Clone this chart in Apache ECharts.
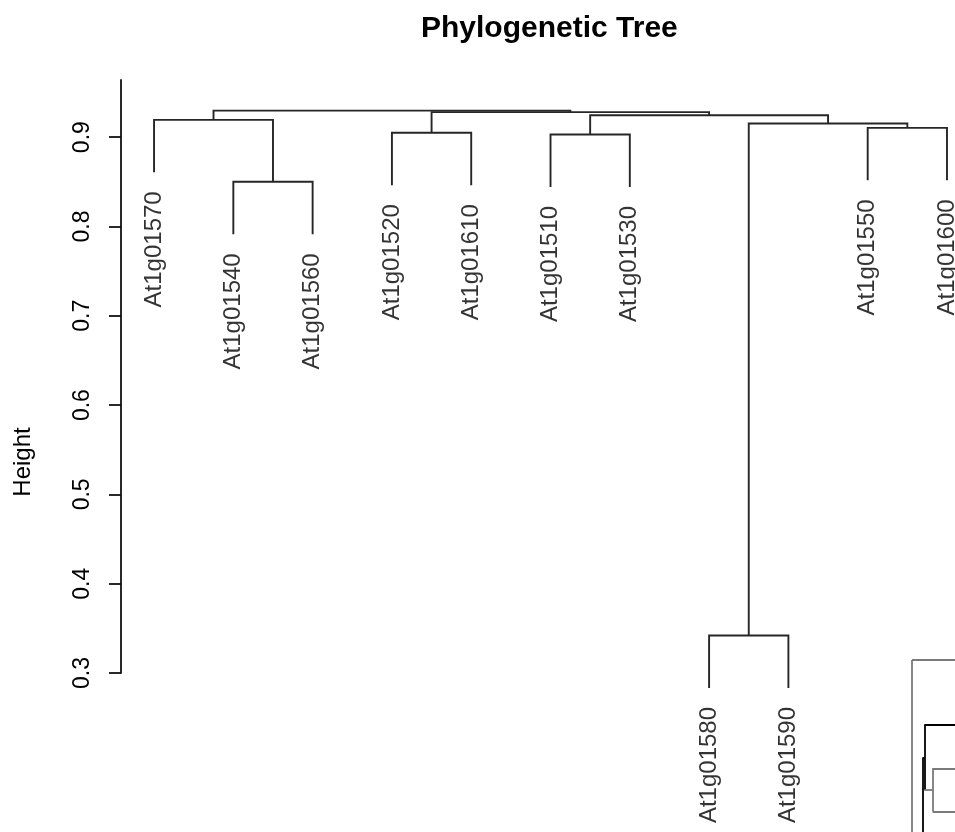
<!DOCTYPE html>
<html><head><meta charset="utf-8">
<script src="https://cdn.jsdelivr.net/npm/echarts@6/dist/echarts.min.js"></script>
<style>html,body{margin:0;padding:0;background:#fff}#c{width:955px;height:832px}</style>
</head><body><div id="c"></div>
<script>
// ---- data: main dendrogram (leaf order as drawn) ----
const leafLabels = ["At1g01570","At1g01540","At1g01560","At1g01520","At1g01610","At1g01510","At1g01530","At1g01580","At1g01590","At1g01550","At1g01600"];
// merge steps (numbers refer to earlier merge steps, 1-based)
const mergeLeft   = ["At1g01580","At1g01540","At1g01510","At1g01520","At1g01550", 1, "At1g01570", 3, 4, 7];
const mergeRight  = ["At1g01590","At1g01560","At1g01530","At1g01610","At1g01600", 5, 2, 6, 8, 9];
const mergeHeight = [0.342, 0.850, 0.903, 0.905, 0.9104, 0.9153, 0.9194, 0.9246, 0.928, 0.9297];
const hangFraction = 0.1;
const yTicks = [0.3, 0.4, 0.5, 0.6, 0.7, 0.8, 0.9];
const yAxisTop = 0.964;

// ---- data: partial second dendrogram visible at bottom right ----
const insetLeafNames = ["L1", "L2", "L3", "L4", "L5"];
const insetLeafRows  = [0, 1.5, 2.5, 3.5, 6];
const insetLeafHeight = -20;
const insetMergeNames  = ["A", "B", "C", "D"];
const insetMergeLeft   = ["L3", "L2", "B", "L1"];
const insetMergeRight  = ["L4", "A", "L5", "C"];
const insetMergeHeight = [22.3, 30.7, 32.3, 43];

// ---- styles ----
const GRAY = '#7a7a7a', BLACK = '#000000';
const insetNodeColor = {L1: GRAY, L2: BLACK, L3: GRAY, L4: GRAY, L5: BLACK, A: GRAY, B: BLACK, C: BLACK, D: GRAY};
const FONT = 'Liberation Sans, Arial, sans-serif';

// ---- build main tree geometry from data ----
const hang = hangFraction * (Math.max(...mergeHeight) - Math.min(...mergeHeight));
const nodeX = {};
leafLabels.forEach((l, i) => { nodeX[l] = i; });
const treeSegs = [];
const leafPoints = [];
for (let k = 0; k < mergeHeight.length; k++) {
  const h = mergeHeight[k];
  const key = c => typeof c === 'number' ? 'm' + c : c;
  const yOf = c => typeof c === 'number' ? mergeHeight[c - 1] : h - hang;
  const L = key(mergeLeft[k]), R = key(mergeRight[k]);
  const yl = yOf(mergeLeft[k]), yr = yOf(mergeRight[k]);
  if (typeof mergeLeft[k] !== 'number') leafPoints.push({name: L, value: [nodeX[L], yl]});
  if (typeof mergeRight[k] !== 'number') leafPoints.push({name: R, value: [nodeX[R], yr]});
  treeSegs.push({coords: [[nodeX[L], yl], [nodeX[L], h], [nodeX[R], h], [nodeX[R], yr]]});
  nodeX['m' + (k + 1)] = (nodeX[L] + nodeX[R]) / 2;
}

// ---- build inset geometry ----
const iRow = {}, iH = {};
insetLeafNames.forEach((n, i) => { iRow[n] = insetLeafRows[i]; iH[n] = insetLeafHeight; });
const insetSegs = [];
insetMergeNames.forEach((n, k) => {
  const h = insetMergeHeight[k];
  const L = insetMergeLeft[k], R = insetMergeRight[k];
  insetSegs.push({coords: [[h, iRow[L]], [h, iRow[R]]], lineStyle: {color: insetNodeColor[n]}});
  [L, R].forEach(c => {
    insetSegs.push({coords: [[iH[c], iRow[c]], [h, iRow[c]]], lineStyle: {color: insetNodeColor[c]}});
  });
  iRow[n] = (iRow[L] + iRow[R]) / 2;
  iH[n] = h;
});

const chart = echarts.init(document.getElementById('c'), null, {renderer: 'canvas'});
chart.setOption({
  animation: false,
  backgroundColor: '#ffffff',
  title: {
    text: 'Phylogenetic Tree',
    left: 416, top: 9,
    textStyle: {fontFamily: FONT, fontWeight: 'bold', fontSize: 30, color: '#000'}
  },
  grid: [
    {left: 121, right: 0, top: 80, bottom: 159},
    {left: 900, right: 0, top: 640, bottom: 0}
  ],
  xAxis: [
    {gridIndex: 0, type: 'value', min: -0.4167, max: 10.101, show: false},
    {gridIndex: 1, type: 'value', min: 0, max: 55, inverse: true, show: false}
  ],
  yAxis: [
    {
      gridIndex: 0, type: 'value', min: 0.3, max: yAxisTop, interval: 0.1,
      position: 'left',
      name: 'Height', nameLocation: 'middle', nameRotate: 90, nameGap: 86,
      nameTextStyle: {fontFamily: FONT, fontSize: 24, color: '#000', padding: [0, 171, 0, 0]},
      axisLine: {show: true, onZero: false, lineStyle: {color: '#111', width: 1.8}},
      axisTick: {show: true, length: 12, customValues: yTicks, lineStyle: {color: '#111', width: 1.8}},
      axisLabel: {
        show: true, rotate: 90, margin: 27, customValues: yTicks,
        fontFamily: FONT, fontSize: 23, color: '#000',
        formatter: v => v.toFixed(1)
      },
      splitLine: {show: false}
    },
    {gridIndex: 1, type: 'value', min: -0.462, max: 3.972, inverse: true, show: false}
  ],
  series: [
    {
      type: 'lines', coordinateSystem: 'cartesian2d', xAxisIndex: 0, yAxisIndex: 0,
      polyline: true, clip: false, silent: true,
      lineStyle: {color: '#262626', width: 1.9, opacity: 1},
      data: treeSegs
    },
    {
      type: 'scatter', xAxisIndex: 0, yAxisIndex: 0, clip: false, silent: true,
      symbolSize: 0, data: leafPoints,
      label: {
        show: true, formatter: '{b}', position: 'bottom', distance: 19, rotate: 90,
        align: 'right', verticalAlign: 'middle',
        fontFamily: FONT, fontSize: 24, color: '#000'
      }
    },
    {
      type: 'lines', coordinateSystem: 'cartesian2d', xAxisIndex: 1, yAxisIndex: 1,
      polyline: false, silent: true,
      lineStyle: {width: 1.8, opacity: 1},
      data: insetSegs
    }
  ]
});
</script>
</body></html>
